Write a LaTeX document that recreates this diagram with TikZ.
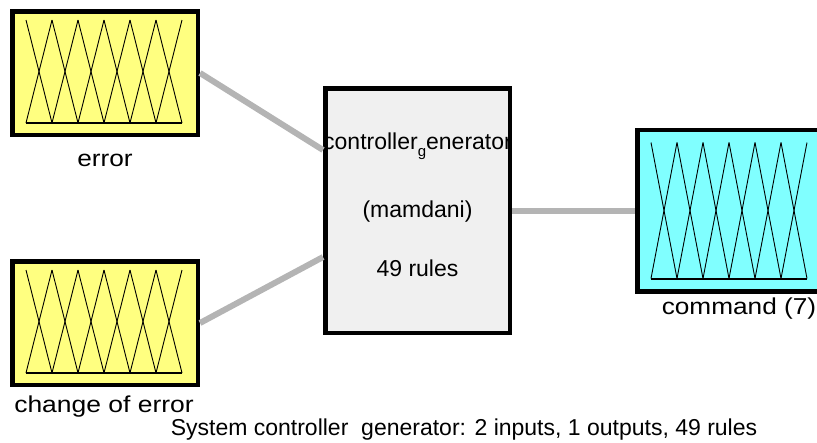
\documentclass[tikz,border=0pt]{standalone}
\usepackage{fontspec}
\setmainfont{Liberation Sans}
\usetikzlibrary{positioning,calc}

\definecolor{inyellow}{RGB}{255,255,128}
\definecolor{outcyan}{RGB}{128,255,255}
\definecolor{fisgray}{RGB}{240,240,240}
\definecolor{wiregray}{RGB}{180,180,180}

\begin{document}
\begin{tikzpicture}[
            x=1pt, y=-1pt,
            font=\fontsize{23}{27}\selectfont,
            varbox/.style={draw, line width=4.5pt, minimum width=185.5pt,
                minimum height=123.5pt, inner sep=0pt},
            fisbox/.style={draw, line width=4.5pt, fill=fisgray,
                minimum width=184.5pt, minimum height=244.5pt, inner sep=0pt},
            wire/.style={draw=wiregray, line width=6pt},
            mfline/.style={line width=0.9pt},
            mfbase/.style={line width=2pt},
            caption/.style={anchor=base, inner sep=0pt}
        ]
        \clip (0,0) rectangle (817,442);

        % Define boxes
        \node[varbox, fill=inyellow] (err) at (105,73) {};
        \node[varbox, fill=inyellow] (derr) at (105,323) {};
        \node[fisbox] (fis) at (417.5,210.5) {};
        \node[varbox, fill=outcyan, minimum height=161.5pt] (cmd) at (730,210.5) {};

        % Membership functions
        \foreach \b/\t/\u in {err/53/50, derr/53/50, cmd/68/68} {
            \begin{scope}[shift={(\b.center)}]
                \foreach \k in {0,...,5} {
                    \draw[mfline] ({-79+26*\k},\u) -- ({-79+26*(\k+1)},-\t);
                    \draw[mfline] ({-79+26*\k},-\t) -- ({-79+26*(\k+1)},\u);
                }
                \draw[mfbase] (-79,\u) -- (77,\u);
            \end{scope}
        }

        % Draw connections
        \coordinate (fisin1) at ($(fis.north west)!0.257!(fis.south west)$);
        \coordinate (fisin2) at ($(fis.north west)!0.687!(fis.south west)$);
        \draw[wire] (err.east) -- (fisin1);
        \draw[wire] (derr.east) -- (fisin2);
        \draw[wire] (fis.east) -- (cmd.west);

        % Labels
        \node[caption] (errlabel) at (105,166) {\scalebox{1.14}[1]{error}};
        \node[caption] (derrlabel) at (104,412) {\scalebox{1.15}[1]{change of error}};
        \node[caption] (cmdlabel) at (739,314) {\scalebox{1.14}[1]{command (7)}};
        \node[caption] (fisname) at (417.5,149)
            {controller\raisebox{-7pt}{\fontsize{15}{15}\selectfont g}enerator};
        \node[caption] (fistype) at (417.5,217) {(mamdani)};
        \node[caption] (fisrules) at (417.5,276) {49 rules};
        \node[caption] (title) at (464,435)
            {System controller~~generator: 2 inputs, 1 outputs, 49 rules};
        \end{tikzpicture}
\end{document}
